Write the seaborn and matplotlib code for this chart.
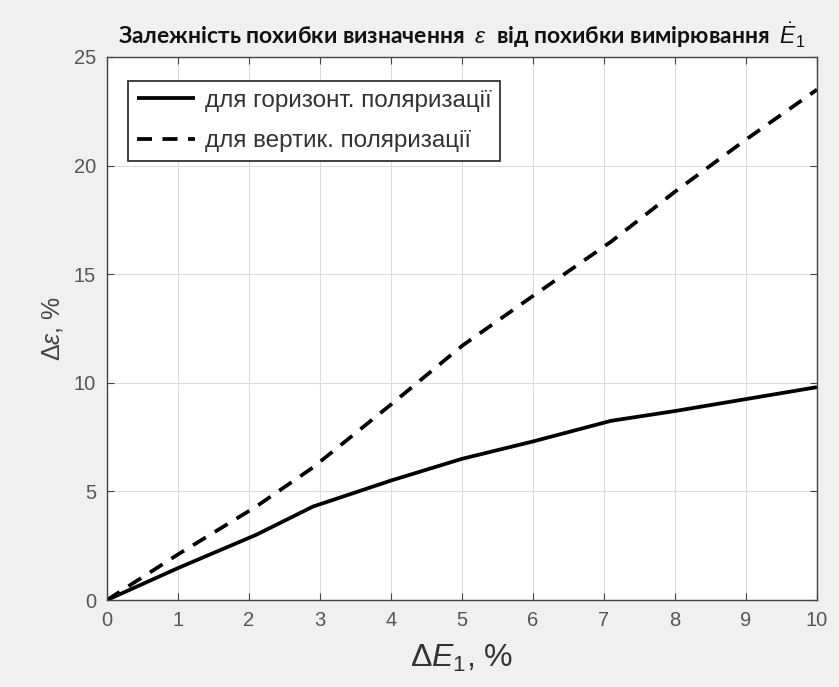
import matplotlib
matplotlib.use('Agg')
import matplotlib.pyplot as plt
import seaborn as sns
import pandas as pd

# Values
dE1 = [0, 1, 2.1, 2.9, 4, 5, 6, 7.1, 8, 9, 10]
horiz = [0, 1.47, 3.0, 4.3, 5.5, 6.5, 7.3, 8.25, 8.7, 9.25, 9.8]
vert = [0, 2.1, 4.3, 6.1, 9.0, 11.7, 14.0, 16.5, 18.8, 21.2, 23.5]
labels = ['для горизонт. поляризації', 'для вертик. поляризації']
xticks = list(range(0, 11))
yticks = [0, 5, 10, 15, 20, 25]

df = pd.DataFrame({
    'dE1': dE1 + dE1,
    'de': horiz + vert,
    'kind': [labels[0]] * len(dE1) + [labels[1]] * len(dE1),
})

sns.set_style('whitegrid')
plt.rcParams['font.family'] = ['Liberation Sans', 'DejaVu Sans']
plt.rcParams['mathtext.fontset'] = 'custom'
plt.rcParams['mathtext.rm'] = 'Liberation Sans'
plt.rcParams['mathtext.it'] = 'Liberation Sans:italic'
plt.rcParams['mathtext.bf'] = 'Liberation Sans:bold'

fig = plt.figure(figsize=(8.39, 6.87), dpi=100)
fig.patch.set_facecolor('#f0f0f0')
ax = fig.add_axes([107 / 839, 87 / 687, 710 / 839, 543 / 687])

sns.lineplot(data=df, x='dE1', y='de', hue='kind', style='kind',
             palette=['black', 'black'], dashes=[(1, 0), (4, 2.8)],
             linewidth=2.7, ax=ax)

ax.set_xlim(0, 10)
ax.set_ylim(0, 25)
ax.set_xticks(xticks)
ax.set_yticks(yticks)
ax.grid(True, color='#dcdcdc', linewidth=0.8)
for s in ax.spines.values():
    s.set_color('#444444')
    s.set_linewidth(1.0)
ax.tick_params(direction='in', length=5, colors='#444444', labelsize=14.5,
               labelcolor='#555555', top=True, right=True,
               bottom=True, left=True, pad=8)

ax.set_xlabel(r'$\mathit{ΔE}_{\mathit{1}}$, %', fontsize=23,
              color='#333333', labelpad=9)
ax.set_ylabel(r'$\Delta\varepsilon$, %', fontsize=18, color='#444444',
              labelpad=6)

ax.set_title(r'Залежність похибки визначення  $\varepsilon$  від похибки вимірювання  $\dot{E}_{\mathit{1}}$',
             fontsize=16.5, fontweight='bold', pad=9, family=['Lato', 'DejaVu Sans'],
             color='#111111')

leg = ax.legend(loc='upper left', bbox_to_anchor=(0.03, 0.955), fontsize=17.5,
                frameon=True, fancybox=False, framealpha=1, edgecolor='#333333',
                handlelength=2.4, handletextpad=0.4, borderpad=0.35,
                labelspacing=0.75, borderaxespad=0)
leg.get_frame().set_linewidth(1.3)
for t in leg.get_texts():
    t.set_color('#333333')

fig.savefig('out.png', dpi=100, facecolor=fig.get_facecolor())
